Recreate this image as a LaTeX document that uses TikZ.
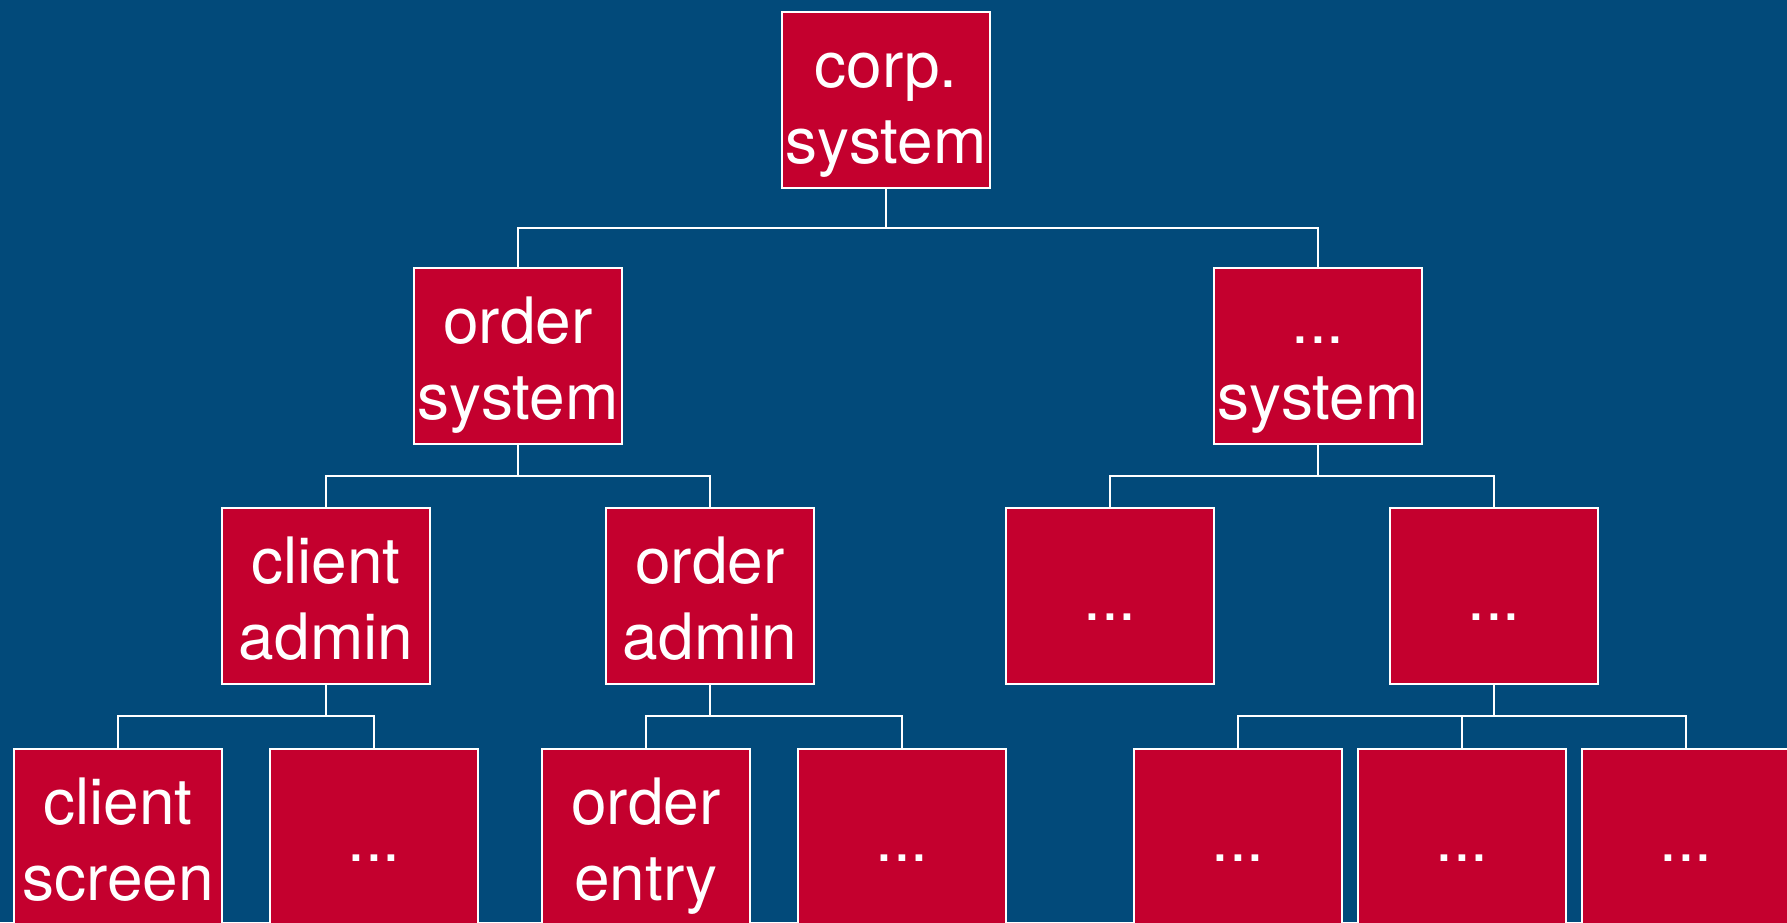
\documentclass[tikz,border=0pt]{standalone}
\usepackage{fontspec}
\setmainfont{TeX Gyre Heros}
\usetikzlibrary{calc}
\definecolor{bg}{RGB}{2,74,122}
\definecolor{boxred}{RGB}{196,0,46}
\tikzset{
  box/.style={draw=white, fill=boxred, line width=1.8pt, minimum width=208pt, minimum height=176pt, inner sep=0pt, outer sep=0pt},
  lbl/.style={text=white, font=\fontsize{64}{77}\selectfont, anchor=base, inner sep=0pt, outer sep=0pt},
  conn/.style={draw=white, line width=1.8pt},
}
\newcommand\twolbl[3]{%
  \node[lbl] (#1-a) at ($(#1.center)+(0,-13)$) {#2};
  \node[lbl] (#1-b) at ($(#1.center)+(0,63)$) {#3};}
\newcommand\onelbl[2]{%
  \node[lbl] (#1-a) at ($(#1.center)+(0,24)$) {#2};}
\begin{document}
\begin{tikzpicture}[x=1pt,y=-1pt]
\useasboundingbox (0,0) rectangle (1787,922);
\clip (0,0) rectangle (1787,922);
\fill[bg] (0,0) rectangle (1787,922);
% level 1
\node[box] (corp) at (886,100) {};
% level 2
\node[box] (os) at (518,356) {};
\node[box] (ds) at (1318,356) {};
% level 3
\node[box] (ca) at (326,596) {};
\node[box] (oa) at (710,596) {};
\node[box] (d1) at (1110,596) {};
\node[box] (d2) at (1494,596) {};
% level 4
\node[box] (cs) at (118,837) {};
\node[box] (e1) at (374,837) {};
\node[box] (oe) at (646,837) {};
\node[box] (e2) at (902,837) {};
\node[box] (f1) at (1238,837) {};
\node[box] (f2) at (1462,837) {};
\node[box] (f3) at (1686,837) {};
% junctions
\coordinate (j0) at (886,228);
\coordinate (j1) at (518,476);
\coordinate (j2) at (1318,476);
\coordinate (j3) at (326,716);
\coordinate (j4) at (710,716);
\coordinate (j5) at (1494,716);
% connectors
\draw[conn] (corp.south) -- (j0);
\draw[conn] (j0) -| (os.north);
\draw[conn] (j0) -| (ds.north);
\draw[conn] (os.south) -- (j1);
\draw[conn] (j1) -| (ca.north);
\draw[conn] (j1) -| (oa.north);
\draw[conn] (ds.south) -- (j2);
\draw[conn] (j2) -| (d1.north);
\draw[conn] (j2) -| (d2.north);
\draw[conn] (ca.south) -- (j3);
\draw[conn] (j3) -| (cs.north);
\draw[conn] (j3) -| (e1.north);
\draw[conn] (oa.south) -- (j4);
\draw[conn] (j4) -| (oe.north);
\draw[conn] (j4) -| (e2.north);
\draw[conn] (d2.south) -- (j5);
\draw[conn] (j5) -| (f1.north);
\draw[conn] (j5) -| (f2.north);
\draw[conn] (j5) -| (f3.north);
% labels
\twolbl{corp}{corp.}{system}
\twolbl{os}{order}{system}
\twolbl{ds}{...}{system}
\twolbl{ca}{client}{admin}
\twolbl{oa}{order}{admin}
\onelbl{d1}{...}
\onelbl{d2}{...}
\twolbl{cs}{client}{screen}
\onelbl{e1}{...}
\twolbl{oe}{order}{entry}
\onelbl{e2}{...}
\onelbl{f1}{...}
\onelbl{f2}{...}
\onelbl{f3}{...}
\end{tikzpicture}
\end{document}
